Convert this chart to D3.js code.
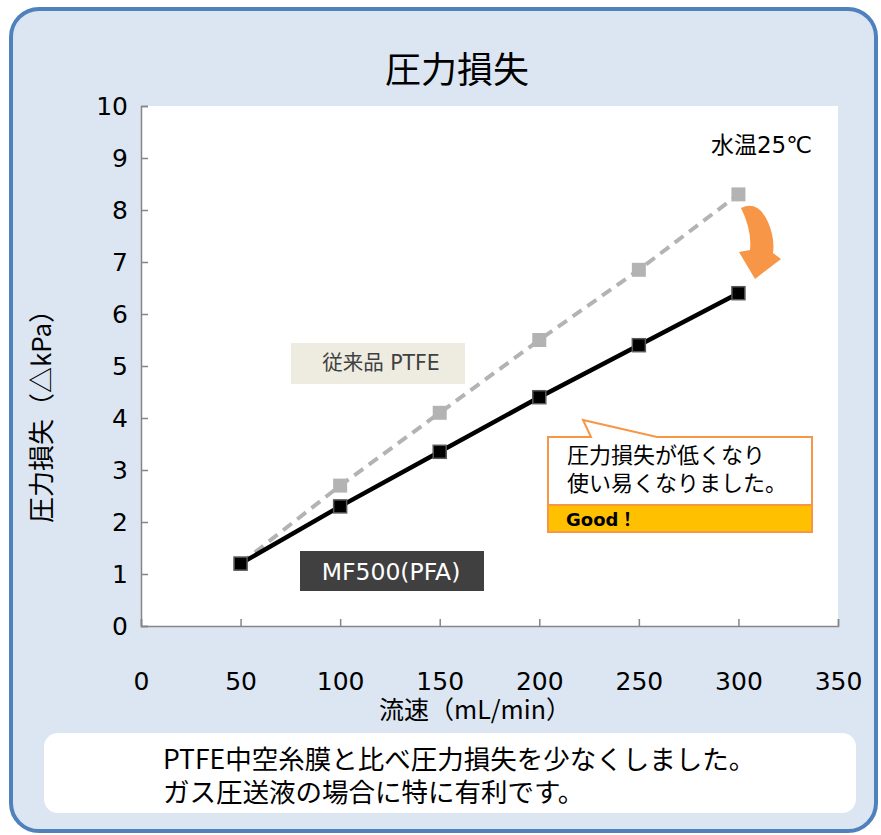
<!DOCTYPE html>
<html>
<head>
<meta charset="utf-8">
<script src="https://cdn.jsdelivr.net/npm/d3@7"></script>
<style>
    body { margin: 0; background: #fff; }
    text { font-family: "DejaVu Sans", "Noto Sans CJK JP", sans-serif; }
    .cjk { font-family: "Noto Sans CJK JP", sans-serif; }
</style>
</head>
<body>
<svg id="chart"></svg>
<script>
const flowRates = [50, 100, 150, 200, 250, 300];
const ptfeLoss = [1.2, 2.7, 4.1, 5.5, 6.85, 8.3];
const mf500Loss = [1.2, 2.3, 3.35, 4.4, 5.4, 6.4];
const xTicks = [0, 50, 100, 150, 200, 250, 300, 350];
const yTicks = [0, 1, 2, 3, 4, 5, 6, 7, 8, 9, 10];

const width = 881;
const height = 835;

const svg = d3.select('#chart')
    .attr('width', width)
    .attr('height', height);

// outer panel
svg.append('rect')
    .attr('x', 11).attr('y', 9)
    .attr('width', 865).attr('height', 822)
    .attr('rx', 28)
    .attr('fill', '#dce6f2')
    .attr('stroke', '#4f81bd')
    .attr('stroke-width', 4);

svg.append('text')
    .attr('class', 'cjk')
    .attr('x', 457).attr('y', 83)
    .attr('text-anchor', 'middle')
    .attr('font-size', 36)
    .attr('fill', '#000')
    .text('圧力損失');

const x = d3.scaleLinear().domain([0, 350]).range([141, 838]);
const y = d3.scaleLinear().domain([0, 10]).range([626, 106]);

// plot area
svg.append('rect')
    .attr('x', x(0)).attr('y', y(10))
    .attr('width', x(350) - x(0)).attr('height', y(0) - y(10))
    .attr('fill', '#fff');

const yAxis = svg.append('g')
    .attr('transform', `translate(${x(0)},0)`)
    .call(d3.axisLeft(y).tickValues(yTicks).tickSize(-7).tickPadding(13));

const xAxis = svg.append('g')
    .attr('transform', `translate(0,${y(0)})`)
    .call(d3.axisBottom(x).tickValues(xTicks).tickSize(-7).tickPadding(46));

[yAxis, xAxis].forEach(g => {
    g.select('.domain').attr('stroke', '#868686').attr('stroke-width', 1.5);
    g.selectAll('.tick line').attr('stroke', '#868686').attr('stroke-width', 1.5);
    g.selectAll('.tick text')
        .attr('font-size', 25)
        .attr('fill', '#000')
        .style('font-family', '"DejaVu Sans", sans-serif');
});

svg.append('text')
    .attr('class', 'cjk')
    .attr('transform', 'translate(51,410) rotate(-90)')
    .attr('text-anchor', 'middle')
    .attr('font-size', 26)
    .attr('fill', '#000')
    .text('圧力損失（△kPa）');

svg.append('text')
    .attr('class', 'cjk')
    .attr('x', 475).attr('y', 719)
    .attr('text-anchor', 'middle')
    .attr('font-size', 25)
    .attr('fill', '#000')
    .text('流速（mL/min）');

const ptfe = flowRates.map((f, i) => ({ f, v: ptfeLoss[i] }));
const mf500 = flowRates.map((f, i) => ({ f, v: mf500Loss[i] }));

const line = d3.line().x(d => x(d.f)).y(d => y(d.v));

svg.append('path')
    .datum(ptfe)
    .attr('d', line)
    .attr('fill', 'none')
    .attr('stroke', '#b3b3b3')
    .attr('stroke-width', 4)
    .attr('stroke-dasharray', '11,7');

svg.selectAll('.ptfe-pt')
    .data(ptfe)
    .enter().append('rect')
    .attr('class', 'ptfe-pt')
    .attr('x', d => x(d.f) - 7).attr('y', d => y(d.v) - 7)
    .attr('width', 14).attr('height', 14)
    .attr('fill', '#b3b3b3');

svg.append('path')
    .datum(mf500)
    .attr('d', line)
    .attr('fill', 'none')
    .attr('stroke', '#000')
    .attr('stroke-width', 4.5);

svg.selectAll('.mf-pt')
    .data(mf500)
    .enter().append('rect')
    .attr('class', 'mf-pt')
    .attr('x', d => x(d.f) - 6.5).attr('y', d => y(d.v) - 6.5)
    .attr('width', 13).attr('height', 13)
    .attr('fill', '#000')
    .attr('stroke', '#595959')
    .attr('stroke-width', 1.5);

svg.append('text')
    .attr('x', 812).attr('y', 153)
    .attr('text-anchor', 'end')
    .attr('font-size', 23)
    .attr('fill', '#000')
    .text('水温25℃');

// orange curved arrow
svg.append('path')
    .attr('d', 'M741,208 Q758,200 768,222 Q775,238 773,253 L781,259 L755,279 L739,252 L750,250 Q752,230 741,208 Z')
    .attr('fill', '#f79646');

// series labels
svg.append('rect')
    .attr('x', 291).attr('y', 343)
    .attr('width', 174).attr('height', 41)
    .attr('fill', '#eeece1');
svg.append('text')
    .attr('x', 381).attr('y', 370)
    .attr('text-anchor', 'middle')
    .attr('font-size', 20.5)
    .attr('fill', '#404040')
    .text('従来品 PTFE');

svg.append('rect')
    .attr('x', 300).attr('y', 551)
    .attr('width', 184).attr('height', 40)
    .attr('fill', '#404040');
svg.append('text')
    .attr('x', 391).attr('y', 580)
    .attr('text-anchor', 'middle')
    .attr('font-size', 23.5)
    .attr('fill', '#fff')
    .text('MF500(PFA)');

// callout
svg.append('path')
    .attr('d', 'M548,437 L591,437 L583,420 L657,437 L812,437 L812,505 L548,505 Z')
    .attr('fill', '#fff')
    .attr('stroke', '#f79646')
    .attr('stroke-width', 2);
svg.append('rect')
    .attr('x', 548).attr('y', 505)
    .attr('width', 264).attr('height', 27)
    .attr('fill', '#ffc000')
    .attr('stroke', '#f79646')
    .attr('stroke-width', 2);

const calloutLines = ['圧力損失が低くなり', '使い易くなりました。'];
svg.selectAll('.callout-line')
    .data(calloutLines)
    .enter().append('text')
    .attr('class', 'callout-line cjk')
    .attr('x', 567)
    .attr('y', (d, i) => 463 + i * 28)
    .attr('font-size', 22)
    .attr('fill', '#000')
    .text(d => d);

svg.append('text')
    .attr('x', 566).attr('y', 526)
    .attr('font-size', 18)
    .attr('font-weight', 'bold')
    .attr('fill', '#000')
    .text('Good！');

// bottom note
svg.append('rect')
    .attr('x', 44).attr('y', 733)
    .attr('width', 812).attr('height', 80)
    .attr('rx', 14)
    .attr('fill', '#fff');

const noteLines = ['PTFE中空糸膜と比べ圧力損失を少なくしました。', 'ガス圧送液の場合に特に有利です。'];
svg.selectAll('.note-line')
    .data(noteLines)
    .enter().append('text')
    .attr('class', 'note-line cjk')
    .attr('x', 163)
    .attr('y', (d, i) => 769 + i * 33)
    .attr('font-size', 26.5)
    .attr('fill', '#000')
    .text(d => d);
</script>
</body>
</html>
